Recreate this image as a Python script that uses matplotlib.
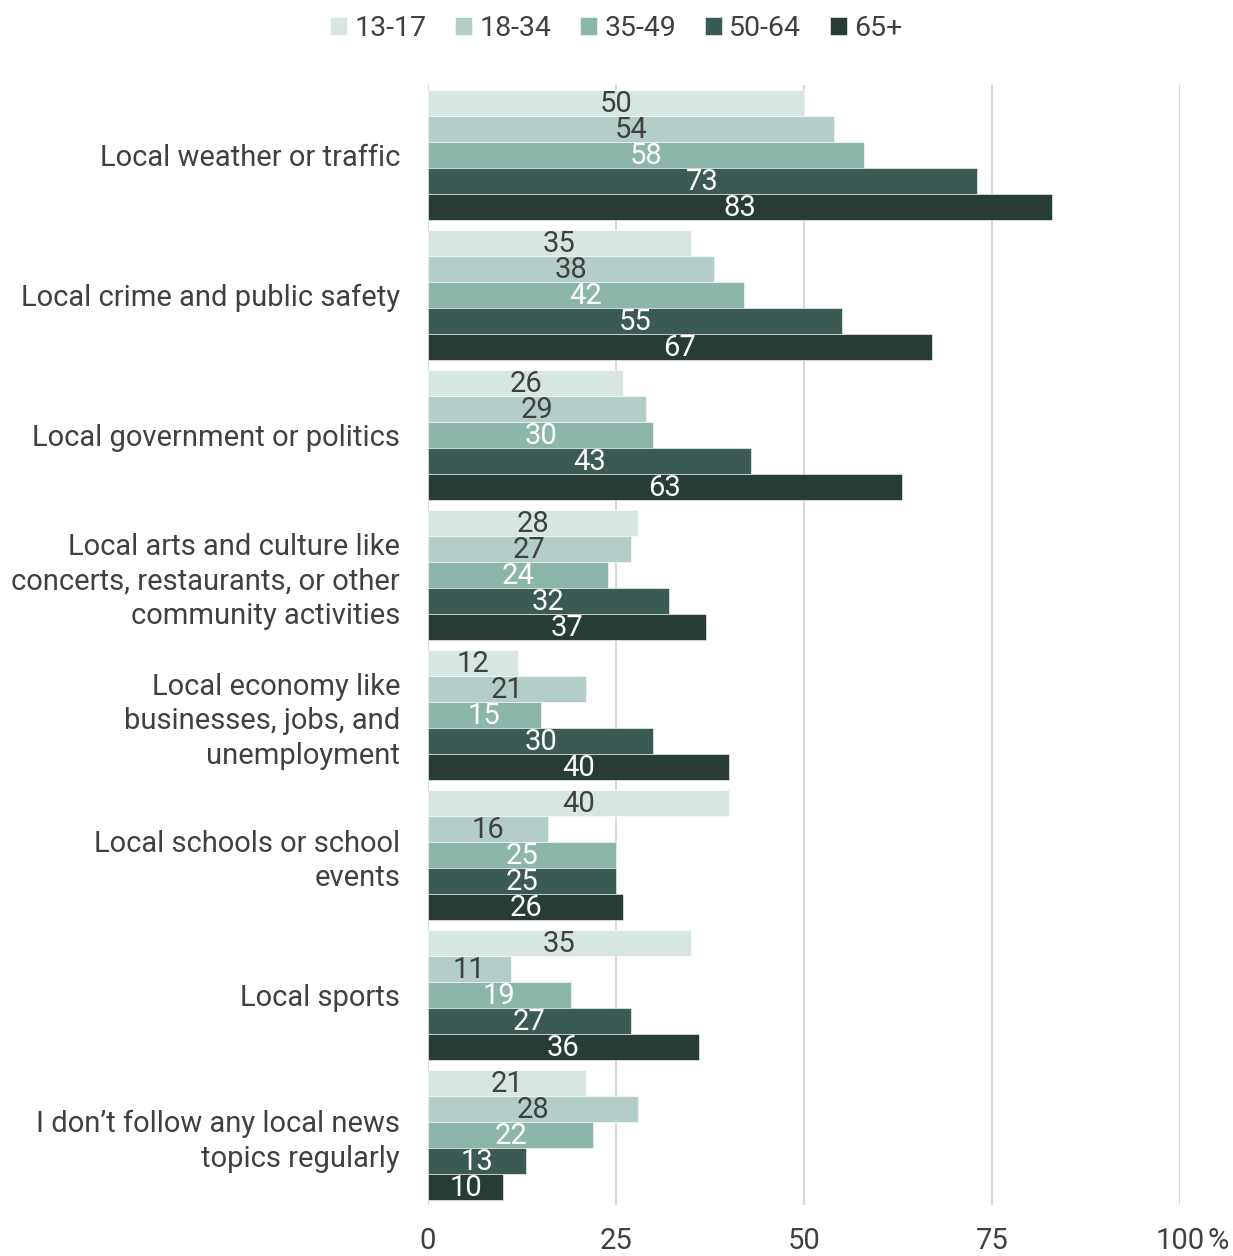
import matplotlib.pyplot as plt
import numpy as np

plt.rcParams['font.family'] = ['Roboto', 'DejaVu Sans']

topics = [
    "Local weather or traffic",
    "Local crime and public safety",
    "Local government or politics",
    "Local arts and culture like\nconcerts, restaurants, or other\ncommunity activities",
    "Local economy like\nbusinesses, jobs, and\nunemployment",
    "Local schools or school\nevents",
    "Local sports",
    "I don\u2019t follow any local news\ntopics regularly",
]
age_groups = ["13-17", "18-34", "35-49", "50-64", "65+"]

teens = [50, 35, 26, 28, 12, 40, 35, 21]
young_adults = [54, 38, 29, 27, 21, 16, 11, 28]
adults = [58, 42, 30, 24, 15, 25, 19, 22]
middle_aged = [73, 55, 43, 32, 30, 25, 27, 13]
seniors = [83, 67, 63, 37, 40, 26, 36, 10]
series = [teens, young_adults, adults, middle_aged, seniors]

x_ticks = [0, 25, 50, 75, 100]

colors = ["#d7e6e1", "#b3cec8", "#8db6ab", "#3a5b54", "#263c35"]
label_colors = ["#404040", "#404040", "white", "white", "white"]
text_color = "#404040"

fig = plt.figure(figsize=(12.33, 12.56), dpi=100)
ax = fig.add_axes([0.347, 0.0406, 0.61, 0.892])

y = np.arange(len(topics))
bar_h = 0.186
for k, (vals, name) in enumerate(zip(series, age_groups)):
    pos = y - 2 * bar_h + k * bar_h
    bars = ax.barh(pos, vals, height=bar_h, color=colors[k], label=name,
                   edgecolor="white", linewidth=0.4, zorder=2)
    for b, v in zip(bars, vals):
        ax.text(v / 2, b.get_y() + b.get_height() / 2 + 0.01, str(v),
                ha="center", va="center", fontsize=21, color=label_colors[k],
                zorder=3)

ax.set_xlim(0, 100)
ax.set_ylim(len(topics) - 0.5, -0.5)
ax.set_xticks(x_ticks)
ax.set_xticklabels([str(t) for t in x_ticks])
ax.set_yticks(y)
ax.set_yticklabels(topics, fontsize=21, color=text_color, linespacing=1.3)
ax.tick_params(axis="y", length=0, pad=20)
ax.tick_params(axis="x", length=0, pad=16, labelsize=21, labelcolor=text_color)
ax.grid(axis="x", color="#d9d9d9", linewidth=1.5, zorder=0)
for s in ax.spines.values():
    s.set_visible(False)

# percent sign next to the last tick
ax.annotate("%", xy=(100, 0), xycoords=("data", "axes fraction"),
            xytext=(20, -16), textcoords="offset points",
            ha="left", va="top", fontsize=21, color=text_color)

handles, labels = ax.get_legend_handles_labels()
fig.legend(handles, labels, loc="center", bbox_to_anchor=(0.5, 0.977),
           ncol=5, frameon=False, fontsize=20.5, labelcolor=text_color,
           handlelength=0.6, handleheight=0.6, handletextpad=0.26,
           columnspacing=1.0)

fig.savefig("out.png", dpi=100)
